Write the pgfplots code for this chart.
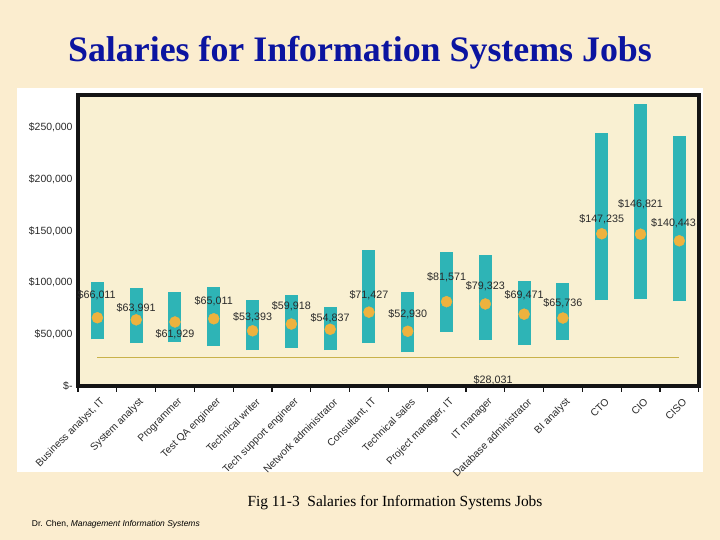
\documentclass[border=0pt]{standalone}
\usepackage{pgfplots}
\usepackage{pgfplotstable}
\pgfplotsset{compat=1.18}
\usepackage{fontspec}
\setmainfont{Liberation Sans}
\newfontfamily\seriffont{Liberation Serif}
\definecolor{bgpage}{HTML}{FBEDCF}
\definecolor{axisbg}{HTML}{F9F0D2}
\definecolor{titleblue}{HTML}{0B14A0}
\definecolor{barteal}{HTML}{2EB4B6}
\definecolor{dotorange}{HTML}{EEB23E}
\definecolor{refline}{HTML}{C9B24A}
\definecolor{framecol}{HTML}{141414}
\definecolor{txt}{HTML}{2A2A2A}

\pgfplotstableread{
x y
1 45000
1 100500
1 nan
2 41400
2 94400
2 nan
3 42400
3 90500
3 nan
4 38550
4 95650
4 nan
5 34650
5 82800
5 nan
6 37000
6 87600
6 nan
7 34650
7 76000
7 nan
8 41450
8 131200
8 nan
9 32700
9 90500
9 nan
10 52500
10 129250
10 nan
11 44700
11 126350
11 nan
12 39500
12 101850
12 nan
13 44700
13 99250
13 nan
14 82800
14 244450
14 nan
15 84050
15 273200
15 nan
16 82100
16 241550
}\rangetable

\pgfplotstableread{
x y
1 66011
2 63991
3 61929
4 65011
5 53393
6 59918
7 54837
8 71427
9 52930
10 81571
11 79323
12 69471
13 65736
14 147235
15 146821
16 140443
}\mediantable

\pgfplotstableread{
x y label
0.98 87900 \$66,011
2 75330 \$63,991
3 50150 \$61,929
4 82100 \$65,011
5 66600 \$53,393
6 77650 \$59,918
7 65350 \$54,837
8 87620 \$71,427
9 69230 \$52,930
10 105050 \$81,571
11 96050 \$79,323
12 87620 \$69,471
13 80550 \$65,736
14 161200 \$147,235
15 175400 \$146,821
15.85 157000 \$140,443
11.2 5600 \$28,031
}\labeltable

\begin{document}
\begin{tikzpicture}[x=1bp,y=1bp]
\useasboundingbox (0,0) rectangle (720,540);
\fill[bgpage] (0,0) rectangle (720,540);
\fill[white] (17,68) rectangle (703,452);
\node[anchor=base, text=titleblue, font=\seriffont\bfseries\fontsize{36}{40}\selectfont, inner sep=0pt] at (360,478) {Salaries for Information Systems Jobs};
\node[anchor=base, text=black, font=\seriffont\fontsize{15.5}{18}\selectfont, inner sep=0pt] at (395,33) {Fig 11-3\ \ Salaries for Information Systems Jobs};
\node[anchor=base west, text=black, font=\fontsize{8.5}{10}\selectfont, inner sep=0pt] at (31.7,13) {Dr. Chen, \textit{Management Information Systems}};
\begin{axis}[
  at={(78bp,154bp)}, anchor=south west,
  scale only axis, width=620.7bp, height=290.5bp,
  xmin=0.5, xmax=16.5, ymin=0, ymax=281000,
  axis background/.style={fill=axisbg},
  axis line style={line width=4bp, draw=framecol},
  tick pos=left,
  major tick length=0pt,
  xtick={1,...,16},
  xticklabels={{Business analyst, IT},System analyst,Programmer,Test QA engineer,Technical writer,Tech support engineer,Network administrator,{Consultant, IT},Technical sales,{Project manager, IT},IT manager,Database administrator,BI analyst,CTO,CIO,CISO},
  xticklabel style={rotate=45, anchor=east, inner sep=0pt, yshift=-14bp, xshift=-6bp, font=\fontsize{10.3}{12}\selectfont, text=txt},
  extra x ticks={0.5,1.5,...,16.5},
  extra x tick labels={},
  extra x tick style={major tick length=6bp, tick align=outside, major tick style={line width=1.2bp, draw=framecol}},
  ytick={0,50000,100000,150000,200000,250000},
  yticklabels={\$-,{\$50,000},{\$100,000},{\$150,000},{\$200,000},{\$250,000}},
  yticklabel style={inner sep=0pt, xshift=-5.3bp, font=\fontsize{10.5}{12}\selectfont, text=txt},
  scaled y ticks=false,
  clip=false,
]
\addplot[refline, line width=1bp] coordinates {(1,28031) (16,28031)};
\addplot[barteal, line width=13bp, unbounded coords=jump, line cap=butt] table[x=x,y=y] {\rangetable};
\addplot[only marks, mark=*, mark size=5.5bp, mark options={fill=dotorange, draw=dotorange}] table[x=x,y=y] {\mediantable};
\addplot[only marks, mark=none, point meta=explicit symbolic,
  nodes near coords,
  every node near coord/.append style={anchor=center, inner sep=0pt, font=\fontsize{10.8}{12}\selectfont, text=txt}]
  table[x=x,y=y,meta=label] {\labeltable};
\end{axis}
\end{tikzpicture}
\end{document}
